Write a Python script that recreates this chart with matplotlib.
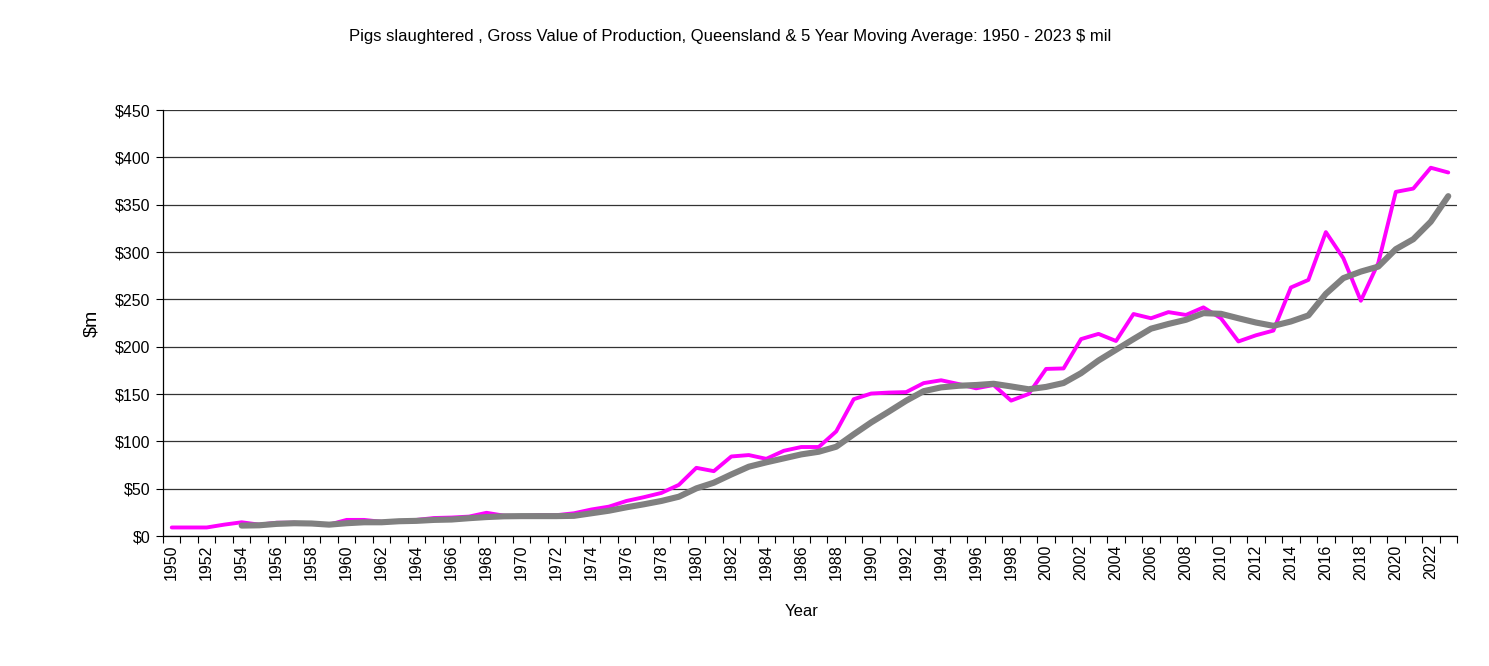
import matplotlib
matplotlib.use("Agg")
import matplotlib.pyplot as plt
from matplotlib.ticker import FuncFormatter, FixedLocator

years = list(range(1950, 2024))

gvp = [9, 9, 9, 12, 14.5, 12, 14, 14, 13, 12,
       17, 17, 15, 15, 17, 19, 19.5, 20.5, 24.5, 21.5,
       21, 22, 22, 24, 28, 31, 37, 41, 45.5, 54,
       72, 68.5, 84, 85.5, 81.5, 90, 94, 94, 110.5, 144.5,
       150.5, 151.5, 152, 161.5, 164.5, 160.5, 156, 159.5, 143, 150,
       176.5, 177, 208, 213.5, 206, 234.5, 230, 236.5, 233.5, 241.5,
       230, 205.5, 212, 217, 262.5, 270.5, 321, 293.5, 248.5, 288.5,
       363.5, 367, 389, 384]

ma_years = list(range(1954, 2024))
ma5 = [11, 11.3, 12.8, 13.5, 13.2, 12, 13.5, 14.5, 14.5, 15.6,
       16, 17, 17.4, 18.8, 20, 20.8, 21, 21, 21, 21.3,
       24, 26.7, 30.3, 33.5, 37, 41.5, 50.3, 56.3, 65, 73.2,
       77.8, 82, 86.2, 89, 94.3, 107.4, 120, 131.3, 142.9, 153,
       157, 158.7, 159.5, 160.8, 158, 155, 157.5, 161.6, 172, 185.4,
       196.7, 208, 219, 224, 228.4, 235.4, 234.7, 230, 225.5, 222,
       226.6, 233, 255.8, 272.4, 279.3, 284.6, 303, 313.5, 332, 359]

y_ticks = [0, 50, 100, 150, 200, 250, 300, 350, 400, 450]
title = "Pigs slaughtered , Gross Value of Production, Queensland & 5 Year Moving Average: 1950 - 2023 $ mil"

plt.rcParams['font.family'] = ['Liberation Sans', 'DejaVu Sans']

fig = plt.figure(figsize=(14.89, 6.66), dpi=100)
ax = fig.add_axes([163/1489, 1-536/666, (1457-163)/1489, (536-110)/666])

ax.plot(years, gvp, color='#FF00FF', lw=2.8, solid_capstyle='round', zorder=3)
ax.plot(ma_years, ma5, color='#808080', lw=4.4, solid_capstyle='round', zorder=4)

ax.set_xlim(1949.5, 2023.5)
ax.set_ylim(0, 450)
ax.set_yticks(y_ticks)
ax.yaxis.set_major_formatter(FuncFormatter(lambda v, p: f"${int(v)}"))
ax.grid(axis='y', color='#333333', lw=0.9)
ax.set_axisbelow(True)

ax.xaxis.set_major_locator(FixedLocator([y - 0.5 for y in years] + [2023.5]))
ax.set_xticklabels([])
ax.xaxis.set_minor_locator(FixedLocator(years[::2]))
ax.set_xticklabels([str(y) for y in years[::2]], minor=True, rotation=90)
ax.tick_params(axis='x', which='major', length=5, direction='out', width=0.8)
ax.tick_params(axis='x', which='minor', length=0, pad=6, labelsize=11.5)
ax.tick_params(axis='y', length=5, direction='out', width=0.8, labelsize=11.5, pad=4)

for s in ['top', 'right']:
    ax.spines[s].set_visible(False)
for s in ['left', 'bottom']:
    ax.spines[s].set_color('#000000')
    ax.spines[s].set_linewidth(0.9)

fig.text(730/1489, 1-37/666, title, ha='center', va='center', fontsize=12)
fig.text(92/1489, 1-323/666, "$m", ha='center', va='center', rotation=90, fontsize=14)
fig.text(802/1489, 1-612/666, "Year", ha='center', va='center', fontsize=12)

fig.savefig("out.png", dpi=100)
